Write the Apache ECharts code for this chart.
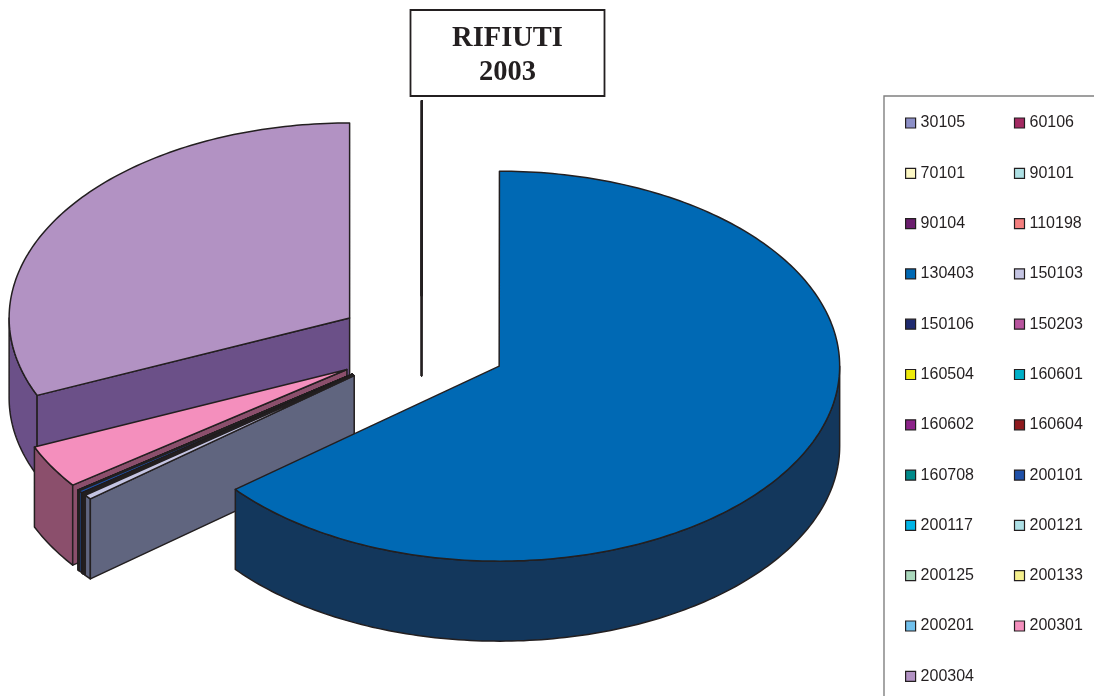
<!DOCTYPE html>
<html>
<head>
<meta charset="utf-8">
<style>html,body{margin:0;padding:0;background:#fff}#chart{width:1094px;height:696px}</style>
<script src="https://cdn.jsdelivr.net/npm/echarts@6/dist/echarts.min.js"></script>
</head>
<body>
<div id="chart"></div>
<script>
// Waste codes and their share of the 2003 total (percent)
const codes = ['30105','60106','70101','90101','90104','110198','130403','150103','150106','150203','160504','160601','160602','160604','160708','200101','200117','200121','200125','200133','200201','200301','200304'];
const shares = [0.002,0.002,0.002,0.002,0.002,0.002,64.1,0.38,0.08,0.02,0.01,0.01,0.01,0.01,0.01,0.2,0.01,0.01,0.01,0.01,0.02,3.6,31.5];
const topColors = ['#8c8fc7','#a32a62','#fdf8c5','#aee0e4','#6b1e6e','#f47f7f','#0069b4','#c5c5e3','#1f2a6f','#b8549e','#eeea0a','#00b0c8','#8c2389','#8e1a1e','#008a8a','#1f50a8','#00b4e6','#aee0e6','#aad8bc','#f5f08e','#70c0ec','#f48fbd','#b292c3'];
const wallColors = {'130403':'#13375c','150103':'#60657f','200301':'#8b4f6c','200304':'#6b5088'};

// Projection of the tilted, exploded pie
const CX = 421.5, CY = 345, RX = 340.5, RY = 195, DEPTH = 80, EXPLODE = 86;
const TILT = RY / RX;
const INK = '#231f20';
const total = shares.reduce((a, b) => a + b, 0);

function wallColor(code, top) {
  if (wallColors[code]) return wallColors[code];
  const n = parseInt(top.slice(1), 16);
  const ch = s => Math.round(((n >> s) & 255) * 0.5 + 16);
  return `rgb(${ch(16)},${ch(8)},${ch(0)})`;
}

// Angles run clockwise from twelve o'clock, in radians
function renderSlice(params, api) {
  const value = api.value(0), before = api.value(1);
  const a0 = before / total * 2 * Math.PI;
  const a1 = (before + value) / total * 2 * Math.PI;
  const mid = (a0 + a1) / 2;
  const ox = CX + EXPLODE * Math.sin(mid);
  const oy = CY - EXPLODE * TILT * Math.cos(mid);
  const rim = (a, drop) => [ox + RX * Math.sin(a), oy - RY * Math.cos(a) + drop];
  const arc = (from, to, drop) => {
    const pts = [];
    const n = Math.max(1, Math.ceil((to - from) / (Math.PI / 180)));
    for (let i = 0; i <= n; i++) pts.push(rim(from + (to - from) * i / n, drop));
    return pts;
  };
  const top = api.style().fill;
  const wall = wallColor(codes[paintOrder[params.seriesIndex]], top);
  const edge = { stroke: INK, lineWidth: 1.5, lineJoin: 'round' };
  const poly = (points, fill) => ({ type: 'polygon', shape: { points }, style: Object.assign({ fill }, edge) });
  const children = [];

  // Outer wall: only the front half of the rim faces the viewer
  const w0 = Math.max(a0, Math.PI / 2), w1 = Math.min(a1, Math.PI * 1.5);
  if (w1 > w0) {
    children.push(poly(arc(w0, w1, 0).concat(arc(w0, w1, DEPTH).reverse()), wall));
  }
  // Cut faces of the wedge, shown when they turn toward the viewer
  const face = a => poly([[ox, oy], rim(a, 0), rim(a, DEPTH), [ox, oy + DEPTH]], wall);
  if (Math.sin(a1) > 0) children.push(face(a1));
  if (Math.sin(a0) < 0) children.push(face(a0));
  // Top surface
  children.push(poly([[ox, oy]].concat(arc(a0, a1, 0)), top));
  return { type: 'group', children };
}

// Back-to-front paint order: the wedges that sit nearest the viewer go last
const paintOrder = codes.map((_, i) => codes.length - 1 - i).sort((a, b) => {
  const rank = i => (codes[i] === '130403' ? 1 : 0);
  return rank(a) - rank(b);
});
const cumulative = [];
shares.reduce((sum, v, i) => { cumulative[i] = sum; return sum + v; }, 0);

const chart = echarts.init(document.getElementById('chart'), null, { renderer: 'canvas' });
chart.setOption({
  animation: false,
  backgroundColor: '#fff',
  title: {
    text: 'RIFIUTI\n2003',
    left: 465.5,
    top: 10,
    padding: [12, 42, 6, 42],
    borderColor: INK,
    borderWidth: 1.8,
    textAlign: 'center',
    textStyle: { fontFamily: 'Liberation Serif', fontWeight: 'bold', fontSize: 28.5, lineHeight: 34, color: INK, align: 'center' }
  },
  legend: {
    data: codes,
    selectedMode: false,
    orient: 'horizontal',
    left: 884,
    top: 96,
    width: 205,
    padding: [12, 10, 24, 21],
    itemWidth: 10,
    itemHeight: 10,
    itemGap: 20.3,
    icon: 'rect',
    borderColor: '#808080',
    borderWidth: 1.4,
    itemStyle: { borderColor: INK, borderWidth: 1.2 },
    textStyle: { fontFamily: 'Liberation Sans', fontSize: 16, color: INK, width: 73, lineHeight: 30, overflow: 'none' }
  },
  series: paintOrder.map(i => ({
    type: 'custom',
    name: codes[i],
    coordinateSystem: 'none',
    silent: true,
    clip: false,
    renderItem: renderSlice,
    itemStyle: { color: topColors[i] },
    data: [[shares[i], cumulative[i]]]
  }))
});
</script>
</body>
</html>
